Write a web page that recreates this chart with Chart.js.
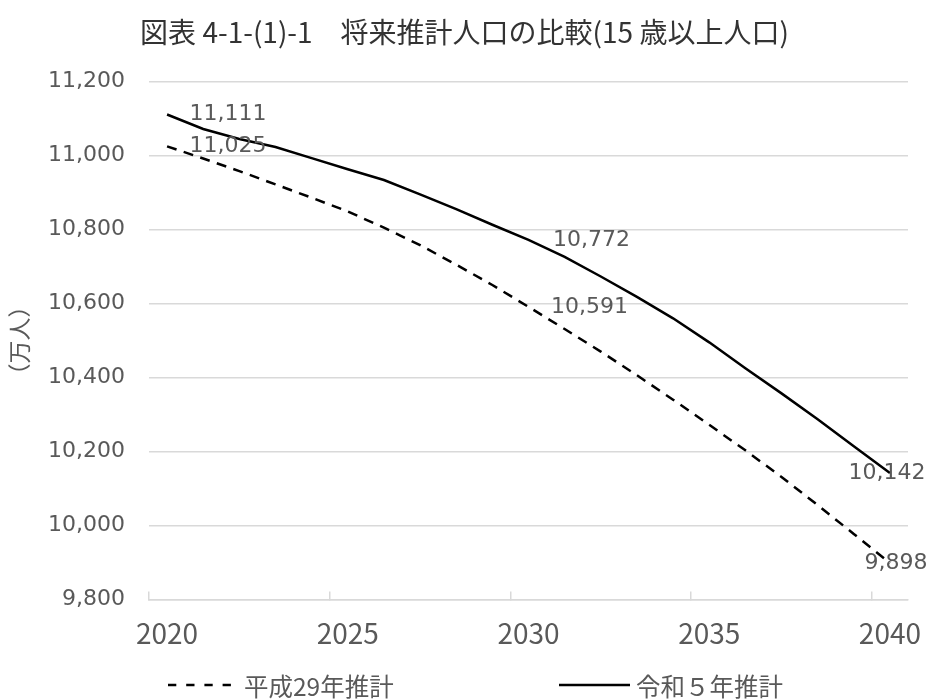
<!DOCTYPE html>
<html lang="ja">
<head>
<meta charset="utf-8">
<title>将来推計人口の比較</title>
<script src="https://cdn.jsdelivr.net/npm/chart.js@4.4.1/dist/chart.umd.min.js"></script>
<style>
  html, body { margin: 0; padding: 0; background: #ffffff; }
  #wrap { position: relative; width: 929px; height: 699px; overflow: hidden; }
  #chart { position: absolute; left: 0; top: 0; }
  #legend {
    position: absolute; left: 0; top: 670px; width: 929px; height: 30px;
    font-family: "Noto Sans CJK JP", sans-serif; font-size: 24.5px; color: #595959;
  }
  .legend-item { position: absolute; top: 0; height: 30px; display: flex; align-items: center; white-space: nowrap; }
  .legend-item svg { display: block; }
  .legend-item:nth-child(1) { left: 168px; }
  .legend-item:nth-child(1) svg { margin-right: 13px; }
  .legend-item:nth-child(2) { left: 559px; }
  .legend-item:nth-child(2) svg { margin-right: 6px; }
</style>
</head>
<body>
<div id="wrap">
  <canvas id="chart" width="929" height="699"></canvas>
  <div id="legend"></div>
</div>
<script>
// 15歳以上人口（万人）
const years = [2020, 2021, 2022, 2023, 2024, 2025, 2026, 2027, 2028, 2029, 2030,
               2031, 2032, 2033, 2034, 2035, 2036, 2037, 2038, 2039, 2040];

const seriesNames = ['平成29年推計', '令和５年推計'];

const h29Projection = [11025, 10992, 10958, 10922, 10886, 10849, 10805, 10758, 10705, 10650, 10591,
                       10531, 10470, 10406, 10340, 10272, 10203, 10131, 10055, 9977, 9898];

const r5Projection = [11111, 11072, 11045, 11023, 10993, 10963, 10934, 10895, 10855, 10813, 10772,
                      10726, 10673, 10618, 10560, 10495, 10425, 10357, 10287, 10214, 10142];

const yearTickLabels = ['2020', '2025', '2030', '2035', '2040'];
const labelledYears = [2020, 2030, 2040];

const chartTitle = '図表 4-1-(1)-1　将来推計人口の比較(15 歳以上人口)';
const unitLabel = '（万人）';

const fmt = v => Number(v).toLocaleString('en-US');

// values printed next to selected points
const valueLabels = {
  id: 'valueLabels',
  afterDatasetsDraw(chart, args, opts) {
    const ctx = chart.ctx;
    ctx.save();
    ctx.font = opts.font;
    ctx.fillStyle = opts.color;
    ctx.textBaseline = 'middle';
    chart.data.datasets.forEach((ds, di) => {
      const meta = chart.getDatasetMeta(di);
      labelledYears.forEach(yr => {
        const i = years.indexOf(yr);
        const pt = meta.data[i];
        if (!pt) return;
        const [align, dx] = opts.placement[di][yr];
        ctx.textAlign = align;
        ctx.fillText(fmt(ds.data[i]), pt.x + dx, pt.y);
      });
    });
    ctx.restore();
  }
};

const gridGray = '#d9d9d9';
const textGray = '#595959';

// short marks on the horizontal axis every five years
const fiveYearMark = c => (typeof c.index === 'number' && c.index % 5 === 0 && c.index < years.length)
  ? gridGray : 'rgba(0,0,0,0)';

const chart = new Chart(document.getElementById('chart'), {
  type: 'line',
  data: {
    labels: years.map(String),
    datasets: [
      {
        label: seriesNames[0],
        data: h29Projection,
        borderColor: '#000000',
        backgroundColor: '#000000',
        borderWidth: 2.5,
        borderDash: [10, 7.5],
        pointRadius: 0,
        tension: 0,
        fill: false
      },
      {
        label: seriesNames[1],
        data: r5Projection,
        borderColor: '#000000',
        backgroundColor: '#000000',
        borderWidth: 2.5,
        pointRadius: 0,
        tension: 0,
        fill: false
      }
    ]
  },
  options: {
    responsive: false,
    animation: false,
    devicePixelRatio: 1,
    layout: { padding: { left: 0, right: 0, top: 0, bottom: 24 } },
    plugins: {
      legend: { display: false },
      tooltip: { enabled: false },
      title: {
        display: true,
        text: chartTitle,
        color: '#333333',
        font: { family: '"Noto Sans CJK JP", sans-serif', size: 28, weight: 'normal' },
        padding: { top: 16, bottom: 32 }
      },
      valueLabels: {
        font: '22px "DejaVu Sans", sans-serif',
        color: textGray,
        placement: [
          { 2020: ['left', 22.5], 2030: ['left', 22.5], 2040: ['center', 6] },
          { 2020: ['left', 22.5], 2030: ['left', 24.5], 2040: ['center', -3] }
        ]
      }
    },
    scales: {
      x: {
        type: 'category',
        offset: true,
        grid: {
          offset: true,
          drawOnChartArea: false,
          drawTicks: true,
          tickLength: -8,
          lineWidth: 1.5,
          tickWidth: 1.5,
          color: fiveYearMark,
          tickColor: fiveYearMark
        },
        border: { display: true, color: gridGray, width: 1.5 },
        ticks: {
          autoSkip: false,
          maxRotation: 0,
          minRotation: 0,
          padding: 25,
          color: textGray,
          font: { family: '"Noto Sans CJK JP", sans-serif', size: 28 },
          callback: function (value) {
            const lab = this.getLabelForValue(value);
            return yearTickLabels.includes(lab) ? lab : '';
          }
        },
        // keep a fixed margin to the right of the plot
        afterFit: scale => { scale.paddingLeft = 0; scale.paddingRight = 21; }
      },
      y: {
        min: 9800,
        max: 11200,
        ticks: {
          stepSize: 200,
          padding: 24,
          color: textGray,
          font: { family: '"DejaVu Sans", sans-serif', size: 22 },
          callback: v => fmt(v)
        },
        grid: { color: gridGray, lineWidth: 1.5, drawTicks: false },
        border: { display: false },
        title: {
          display: true,
          text: unitLabel,
          color: textGray,
          font: { family: '"Noto Sans CJK JP", sans-serif', size: 23 },
          padding: { top: 5, bottom: 0 }
        },
        afterFit: scale => { scale.width = 149; }
      }
    }
  },
  plugins: [valueLabels]
});

// legend built from the chart's datasets
(function buildLegend() {
  const box = document.getElementById('legend');
  const samples = [
    { width: 63, dash: '8.3 9.9' },
    { width: 71, dash: '' }
  ];
  chart.data.datasets.forEach((ds, i) => {
    const item = document.createElement('div');
    item.className = 'legend-item';
    const s = samples[i];
    const svgNS = 'http://www.w3.org/2000/svg';
    const svg = document.createElementNS(svgNS, 'svg');
    svg.setAttribute('width', s.width);
    svg.setAttribute('height', '6');
    const line = document.createElementNS(svgNS, 'line');
    line.setAttribute('x1', '0'); line.setAttribute('x2', String(s.width));
    line.setAttribute('y1', '3'); line.setAttribute('y2', '3');
    line.setAttribute('stroke', ds.borderColor);
    line.setAttribute('stroke-width', '2.5');
    if (s.dash) line.setAttribute('stroke-dasharray', s.dash);
    svg.appendChild(line);
    const span = document.createElement('span');
    span.textContent = ds.label;
    item.appendChild(svg);
    item.appendChild(span);
    box.appendChild(item);
  });
})();
</script>
</body>
</html>
